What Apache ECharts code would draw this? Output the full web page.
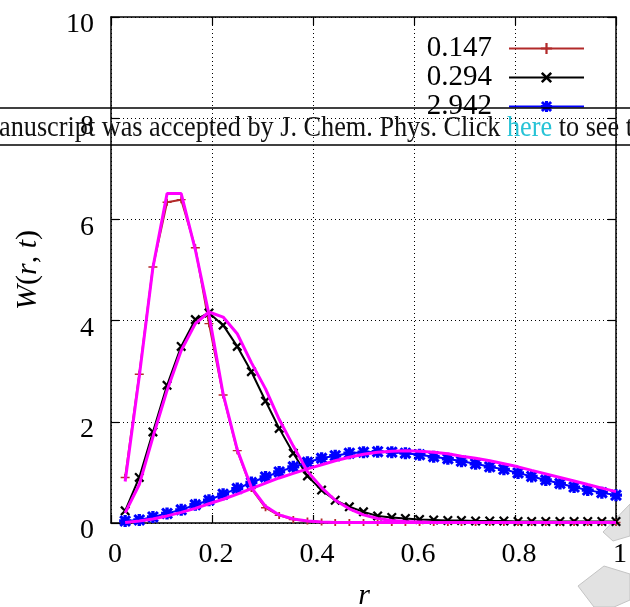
<!DOCTYPE html>
<html>
<head>
<meta charset="utf-8">
<script src="https://cdn.jsdelivr.net/npm/echarts@6/dist/echarts.min.js"></script>
<style>
  html, body { margin: 0; padding: 0; background: #fff; }
  #chart { width: 630px; height: 607px; }
</style>
</head>
<body>
<div id="chart"></div>
<script>
// r grid (k/36)
var rValues = [0.028, 0.056, 0.083, 0.111, 0.139, 0.167, 0.194, 0.222, 0.25, 0.278, 0.306, 0.333,
  0.361, 0.389, 0.417, 0.444, 0.472, 0.5, 0.528, 0.556, 0.583, 0.611, 0.639, 0.667,
  0.694, 0.722, 0.75, 0.778, 0.806, 0.833, 0.861, 0.889, 0.917, 0.944, 0.972, 1.0];

var w147 = [0.90, 2.94, 5.06, 6.34, 6.39, 5.44, 3.94, 2.53, 1.43, 0.68, 0.30, 0.15,
  0.07, 0.04, 0.02, 0.01, 0.01, 0.01, 0.01, 0.01, 0.01, 0.01, 0.01, 0.01,
  0.01, 0.01, 0.01, 0.01, 0.01, 0.01, 0.01, 0.01, 0.01, 0.01, 0.01, 0.01];
var w294 = [0.24, 0.90, 1.80, 2.72, 3.49, 4.02, 4.15, 3.91, 3.49, 2.99, 2.41, 1.87,
  1.38, 0.93, 0.65, 0.45, 0.32, 0.22, 0.14, 0.11, 0.09, 0.07, 0.06, 0.05,
  0.05, 0.04, 0.04, 0.04, 0.03, 0.03, 0.03, 0.03, 0.03, 0.03, 0.03, 0.03];
var w2942 = [0.04, 0.06, 0.12, 0.19, 0.26, 0.36, 0.45, 0.57, 0.68, 0.80, 0.91, 1.01,
  1.11, 1.20, 1.28, 1.33, 1.38, 1.40, 1.41, 1.40, 1.38, 1.35, 1.31, 1.27,
  1.22, 1.17, 1.11, 1.06, 0.99, 0.92, 0.85, 0.78, 0.71, 0.65, 0.60, 0.55];

// magenta fits
var fit147 = [0.82, 2.90, 5.05, 6.51, 6.51, 5.40, 4.12, 2.55, 1.45, 0.70, 0.33, 0.16,
  0.08, 0.04, 0.02, 0.01, 0.01, 0.01, 0.01, 0.01, 0.01, 0.01, 0.01, 0.01,
  0.01, 0.01, 0.01, 0.01, 0.01, 0.01, 0.01, 0.01, 0.01, 0.01, 0.01, 0.01];
var fit294 = [0.20, 0.76, 1.70, 2.62, 3.41, 3.94, 4.17, 4.07, 3.74, 3.17, 2.65, 2.05,
  1.52, 1.02, 0.70, 0.45, 0.28, 0.16, 0.09, 0.05, 0.03, 0.02, 0.01, 0.01,
  0.01, 0.01, 0.01, 0.01, 0.01, 0.01, 0.01, 0.01, 0.01, 0.01, 0.01, 0.01];
var fit2942 = [0.01, 0.04, 0.08, 0.14, 0.21, 0.29, 0.38, 0.47, 0.57, 0.68, 0.79, 0.89,
  0.98, 1.07, 1.15, 1.23, 1.30, 1.36, 1.40, 1.42, 1.43, 1.42, 1.40, 1.37,
  1.32, 1.28, 1.23, 1.17, 1.11, 1.04, 0.97, 0.90, 0.83, 0.76, 0.69, 0.62];

var seriesNames = ['0.147', '0.294', '2.942'];
var xTicks = [0, 0.2, 0.4, 0.6, 0.8, 1];
var yTicks = [0, 2, 4, 6, 8, 10];

var serif = '"Liberation Serif", "DejaVu Serif", serif';

// marker shapes
var plusPath = 'path://M0,4 H4 V0 H6 V4 H10 V6 H6 V10 H4 V6 H0 Z';
var crossPath = 'path://M0,1.6 L1.6,0 L10,8.4 L8.4,10 Z M8.4,0 L10,1.6 L1.6,10 L0,8.4 Z';
var starPath = 'path://M0,3.6 H3.6 V0 H6.4 V3.6 H10 V6.4 H6.4 V10 H3.6 V6.4 H0 Z M0,1.8 L1.8,0 L10,8.2 L8.2,10 Z M8.2,0 L10,1.8 L1.8,10 L0,8.2 Z';

function pairs(ys) {
  return rValues.map(function (r, i) { return [r, ys[i]]; });
}

var chart = echarts.init(document.getElementById('chart'));

// banner text scaled to span the page width
var bannerText = 'anuscript was accepted by J. Chem. Phys. Click here to see t';
var ctx = document.createElement('canvas').getContext('2d');
ctx.font = '30px "Liberation Serif"';
var bannerScale = 634 / ctx.measureText(bannerText).width;

function dataLine(name, ys, color, symbol, size) {
  return {
    name: name,
    type: 'line',
    data: pairs(ys),
    symbol: symbol,
    symbolSize: size,
    showSymbol: true,
    showAllSymbol: true,
    lineStyle: { color: color, width: 2 },
    itemStyle: { color: color },
    animation: false,
    z: 2
  };
}

function fitLine(ys) {
  return {
    type: 'line',
    data: pairs(ys),
    symbol: 'none',
    lineStyle: { color: '#ff00ff', width: 3 },
    itemStyle: { color: '#ff00ff' },
    animation: false,
    z: 3
  };
}

var axisCommon = {
  type: 'value',
  axisLine: { show: true, onZero: false, lineStyle: { color: '#000', width: 1.5 } },
  axisTick: { show: true, inside: true, length: 8, lineStyle: { color: '#000', width: 1.2 } }
};

var option = {
  backgroundColor: '#fff',
  animation: false,
  grid: { left: 111, right: 13, top: 17, bottom: 84 },
  legend: {
    data: seriesNames,
    orient: 'vertical',
    right: 40,
    top: 29,
    align: 'right',
    itemWidth: 75,
    itemHeight: 14,
    itemGap: 0,
    textStyle: { fontFamily: serif, fontSize: 29, color: '#000', lineHeight: 27, padding: [0, 12, 0, 0] }
  },
  xAxis: [
    Object.assign({}, axisCommon, {
      min: 0, max: 1, interval: 0.2, position: 'bottom',
      axisLabel: {
        fontFamily: serif, fontSize: 28, color: '#000', margin: 18,
        padding: [0, 0, 0, 8],
        formatter: function (v) { return xTicks.indexOf(+v.toFixed(1)) >= 0 ? String(+v.toFixed(1)) : ''; }
      },
      splitLine: { show: true, lineStyle: { color: '#000', width: 1, type: [1, 3] } }
    }),
    Object.assign({}, axisCommon, {
      min: 0, max: 1, interval: 0.2, position: 'top',
      axisLabel: { show: false }, splitLine: { show: false }
    })
  ],
  yAxis: [
    Object.assign({}, axisCommon, {
      min: 0, max: 10, interval: 2, position: 'left',
      axisLabel: {
        fontFamily: serif, fontSize: 28, color: '#000', margin: 17,
        verticalAlign: 'top', lineHeight: 16,
        formatter: function (v) { return yTicks.indexOf(v) >= 0 ? String(v) : ''; }
      },
      splitLine: { show: true, lineStyle: { color: '#000', width: 1, type: [1, 3] } }
    }),
    Object.assign({}, axisCommon, {
      min: 0, max: 10, interval: 2, position: 'right',
      axisLabel: { show: false }, splitLine: { show: false }
    })
  ],
  series: [
    dataLine(seriesNames[0], w147, '#b22a2a', plusPath, [9, 7]),
    dataLine(seriesNames[1], w294, '#000000', crossPath, 10),
    dataLine(seriesNames[2], w2942, '#0000ff', starPath, 12),
    fitLine(fit147),
    fitLine(fit294),
    fitLine(fit2942)
  ],
  graphic: [
    // faint watermark pieces, bottom right (behind the labels)
    { type: 'polygon', z: -1, shape: { points: [[603, 532], [630, 504], [630, 536], [613, 541]] },
      style: { fill: '#e2e2e2', stroke: '#c4c4c4', lineWidth: 1 } },
    { type: 'polygon', z: -1, shape: { points: [[578, 586], [604, 566], [630, 574], [630, 600], [614, 607], [594, 607]] },
      style: { fill: '#e2e2e2', stroke: '#c4c4c4', lineWidth: 1 } },
    {
      type: 'text', x: 28, y: 270, rotation: Math.PI / 2, z: 10,
      style: {
        text: '{i|W}({i|r}, {i|t})',
        fontFamily: serif, fontSize: 30, fill: '#000',
        align: 'center', verticalAlign: 'middle',
        rich: { i: { fontStyle: 'italic', fontFamily: serif, fontSize: 30 } }
      }
    },
    {
      type: 'text', x: 364, y: 596, z: 10,
      style: {
        text: 'r', fontFamily: serif, fontStyle: 'italic', fontSize: 30, fill: '#000',
        align: 'center', verticalAlign: 'middle'
      }
    },
    // journal banner across the figure
    { type: 'line', z: 20, shape: { x1: 0, y1: 108, x2: 630, y2: 108 }, style: { stroke: '#000', lineWidth: 1.5 } },
    { type: 'line', z: 20, shape: { x1: 0, y1: 145, x2: 630, y2: 145 }, style: { stroke: '#000', lineWidth: 1.5 } },
    {
      type: 'text', x: -1, y: 128, z: 20, scaleX: bannerScale,
      style: {
        text: '{a|anuscript was accepted by J. Chem. Phys. Click }{h|here}{a| to see t}',
        fontFamily: serif, fontSize: 30, verticalAlign: 'middle', align: 'left',
        rich: {
          a: { fontFamily: serif, fontSize: 30, fill: '#111' },
          h: { fontFamily: serif, fontSize: 30, fill: '#27c3d6' }
        }
      }
    }
  ]
};

chart.setOption(option);
</script>
</body>
</html>
